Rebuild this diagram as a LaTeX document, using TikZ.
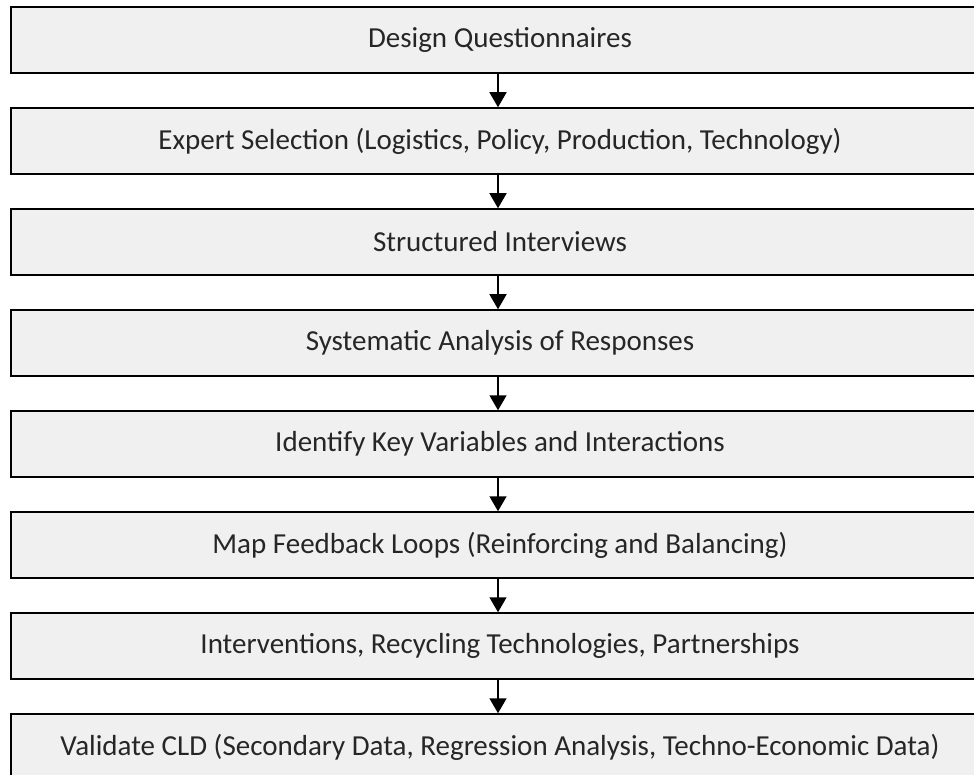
\documentclass[tikz,border=0pt]{standalone}
\usepackage{fontspec}
\setmainfont{Carlito}
\usetikzlibrary{arrows.meta}

\tikzset{
	stepbox/.style={draw=black, line width=1.5pt, fill=gray!12, minimum width=978pt,
		minimum height=66pt, inner sep=0pt, text=black!85, font=\fontsize{29}{34}\selectfont},
	flow/.style={-{Triangle[length=15pt,width=17pt]}, line width=1.5pt}
}

\begin{document}
\begin{tikzpicture}[x=1pt,y=1pt]
		\useasboundingbox (0,0) rectangle (974,-775);				% Moldura

		% Etapas
		\node[stepbox] (s1) at (500,-40)  {Design Questionnaires};
		\node[stepbox] (s2) at (500,-141) {Expert Selection (Logistics, Policy, Production, Technology)};
		\node[stepbox] (s3) at (500,-242) {Structured Interviews};
		\node[stepbox] (s4) at (500,-343) {Systematic Analysis of Responses};
		\node[stepbox] (s5) at (500,-444) {Identify Key Variables and Interactions};
		\node[stepbox] (s6) at (500,-545) {Map Feedback Loops (Reinforcing and Balancing)};
		\node[stepbox] (s7) at (500,-646) {Interventions, Recycling Technologies, Partnerships};
		\node[stepbox] (s8) at (500,-747) {Validate CLD (Secondary Data, Regression Analysis, Techno-Economic Data)};

		% Setas
		\foreach \a/\b in {s1/s2,s2/s3,s3/s4,s4/s5,s5/s6,s6/s7,s7/s8}
			\draw[flow] ([xshift=-2pt]\a.south) -- ([xshift=-2pt]\b.north);
	\end{tikzpicture}
\end{document}
